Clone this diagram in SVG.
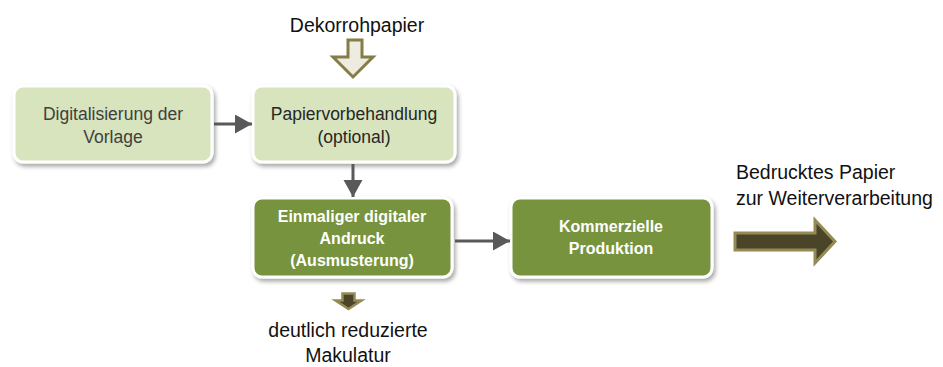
<svg xmlns="http://www.w3.org/2000/svg" width="943" height="367" viewBox="0 0 943 367">
<defs>
<filter id="sh" x="-10%" y="-10%" width="130%" height="140%">
<feDropShadow dx="2" dy="3" stdDeviation="2" flood-color="#000" flood-opacity="0.35"/>
</filter>
<marker id="ah" markerUnits="userSpaceOnUse" markerWidth="18" markerHeight="20" refX="17" refY="9.5" orient="auto">
<path d="M0,0 L17,9.5 L0,19 Z" fill="#595959"/>
</marker>
<style>
.light{fill:#d7e4bd;stroke:#fff;stroke-width:3;filter:url(#sh)}
.dark{fill:#77933c;stroke:#fff;stroke-width:3;filter:url(#sh)}
.t{font-family:"Liberation Sans",Arial,sans-serif;font-size:17.5px;text-anchor:middle}
.tb{font-family:"Liberation Sans",Arial,sans-serif;font-size:16px;font-weight:bold;fill:#fff;text-anchor:middle}
.lab{font-family:"Liberation Sans",Arial,sans-serif;font-size:19.5px;fill:#111}
.con{stroke:#595959;stroke-width:3;fill:none;marker-end:url(#ah)}
</style>
</defs>
<g id="dekorrohpapier">
<text class="lab" x="357" y="32" text-anchor="middle">Dekorrohpapier</text>
<polygon points="348,40 362,40 362,57 373,57 353,77 333,57 348,57" fill="#eeece1" stroke="#857d45" stroke-width="3"/>
</g>
<g id="n1">
<rect class="light" x="14" y="86" width="198" height="76" rx="9"/>
<text class="t" fill="#404040" x="113" y="120">Digitalisierung der</text>
<text class="t" fill="#404040" x="113" y="143">Vorlage</text>
</g>
<g id="n2">
<rect class="light" x="253" y="86" width="202" height="76" rx="9"/>
<text class="t" fill="#262626" x="354" y="120">Papiervorbehandlung</text>
<text class="t" fill="#262626" x="354" y="143">(optional)</text>
</g>
<g id="n3">
<rect class="dark" x="253" y="198" width="199" height="79" rx="9"/>
<text class="tb" x="352" y="222">Einmaliger digitaler</text>
<text class="tb" x="352" y="244">Andruck</text>
<text class="tb" x="352" y="266">(Ausmusterung)</text>
</g>
<g id="n4">
<rect class="dark" x="511" y="198" width="201" height="79" rx="9"/>
<text class="tb" x="611" y="232">Kommerzielle</text>
<text class="tb" x="611" y="254">Produktion</text>
</g>
<g id="makulatur">
<polygon points="342.5,293.5 354.5,293.5 354.5,300.5 361.5,300.5 348.5,309 335.5,300.5 342.5,300.5" fill="#4a4429" stroke="#948a54" stroke-width="2.5"/>
<text class="lab" x="348" y="337" text-anchor="middle">deutlich reduzierte</text>
<text class="lab" x="348" y="362" text-anchor="middle">Makulatur</text>
</g>
<g id="output">
<text class="lab" x="736" y="179">Bedrucktes Papier</text>
<text class="lab" x="736" y="205">zur Weiterverarbeitung</text>
<polygon points="735,233 815,233 815,220 835,241.5 815,263 815,250 735,250" fill="#4a4429" stroke="#948a54" stroke-width="3"/>
</g>
<g id="connectors">
<line class="con" x1="214" y1="124" x2="252" y2="124"/>
<line class="con" x1="353" y1="164" x2="353" y2="197"/>
<line class="con" x1="455" y1="241" x2="510" y2="241"/>
</g>
</svg>
